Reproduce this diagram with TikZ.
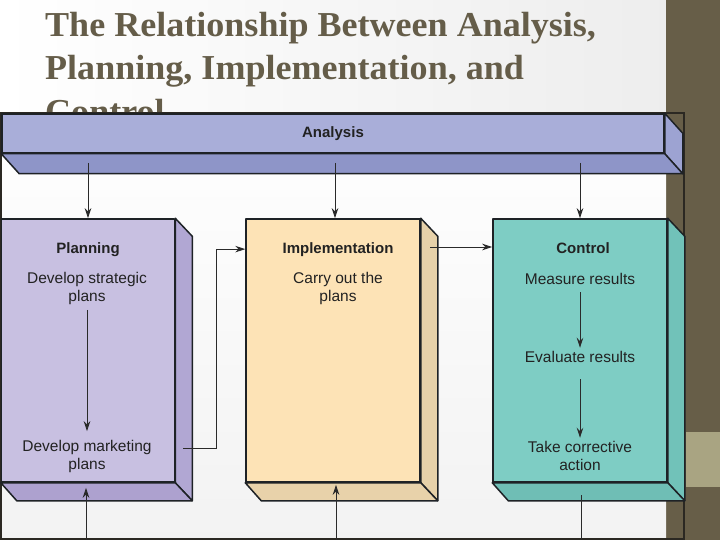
\documentclass[tikz,border=0pt]{standalone}
\usepackage{fontspec}
\setmainfont{Liberation Sans}
\newfontfamily\titlefont{Liberation Serif}
\usetikzlibrary{arrows.meta,calc,positioning}

\definecolor{titlec}{HTML}{655D49}
\definecolor{olive}{HTML}{675E48}
\definecolor{khaki}{HTML}{A9A482}
\definecolor{framec}{HTML}{2B2822}
\definecolor{edgec}{HTML}{1E2226}
\definecolor{linec}{HTML}{2A2A2A}
\definecolor{txtc}{HTML}{222222}
\definecolor{anafront}{HTML}{A9AED9}
\definecolor{anaside}{HTML}{9DA3D2}
\definecolor{anabot}{HTML}{8E95C8}
\definecolor{plfront}{HTML}{C8C0E1}
\definecolor{plside}{HTML}{B1A7D3}
\definecolor{plbot}{HTML}{ADA1CF}
\definecolor{imfront}{HTML}{FDE3B6}
\definecolor{imside}{HTML}{E6D1A9}
\definecolor{imbot}{HTML}{E8D2AA}
\definecolor{ctfront}{HTML}{7ECDC4}
\definecolor{ctside}{HTML}{71C2B9}
\definecolor{ctbot}{HTML}{6FBEB5}

\begin{document}
\begin{tikzpicture}[x=1pt, y=-1pt,
    face/.style={draw=edgec, line width=1.5pt, line join=round},
    arr/.style={-{Stealth[length=10pt,width=6.5pt]}, draw=linec, line width=0.9pt},
    plain/.style={draw=linec, line width=0.9pt},
    boxhead/.style={anchor=base, font=\fontsize{15}{18}\selectfont\bfseries, text=txtc},
    boxtext/.style={font=\fontsize{15.5}{18}\selectfont, text=txtc, align=center},
    titleline/.style={anchor=base west, inner sep=0pt, text=titlec,
      font=\titlefont\bfseries\fontsize{35}{40}\selectfont}]
  \useasboundingbox (0,0) rectangle (720,540);

  % slide background
  \shade[left color=white, right color=gray!15] (0,0) rectangle (720,540);
  \fill[olive] (666,0) rectangle (720,540);
  \fill[khaki] (686,432) rectangle (720,487);

  % title
  \node[titleline] (t1) at (45,36.7) {\scalebox{1.03}[1]{The Relationship Between Analysis,}};
  \node[titleline] (t2) at (45,80) {\scalebox{1.03}[1]{Planning, Implementation, and}};
  \node[titleline] (t3) at (45,123.5) {\scalebox{1.03}[1]{Control}};

  % picture area
  \shade[top color=white, bottom color=gray!10] (0,113) rectangle (666,540);
  \draw[framec, line width=2.5pt] (1,113) rectangle (684,539);

  % analysis bar
  \node[face, fill=anafront, minimum width=662pt, minimum height=39pt, font=\fontsize{15}{18}\selectfont\bfseries, text=txtc] (ana) at (333,133.5) {Analysis};
  \filldraw[face, fill=anaside] (ana.north east) -- ++(18,20) -- ($(ana.south east)+(18,20)$) -- (ana.south east) -- cycle;
  \filldraw[face, fill=anabot] (ana.south west) -- ++(18,20) -- ($(ana.south east)+(18,20)$) -- (ana.south east) -- cycle;

  % three boxes
  \node[face, fill=plfront, minimum width=173pt, minimum height=263pt] (plan) at (88,350.5) {};
  \node[face, fill=imfront, minimum width=174pt, minimum height=263pt] (impl) at (333,350.5) {};
  \node[face, fill=ctfront, minimum width=174pt, minimum height=263pt] (ctrl) at (580,350.5) {};
  \foreach \b/\cs/\cb in {plan/plside/plbot, impl/imside/imbot, ctrl/ctside/ctbot} {
    \filldraw[face, fill=\cs] (\b.north east) -- ++(17,18) -- ($(\b.south east)+(17,18)$) -- (\b.south east) -- cycle;
    \filldraw[face, fill=\cb] (\b.south west) -- ++(16,18) -- ($(\b.south east)+(17,18)$) -- (\b.south east) -- cycle;
  }

  % labels
  \node[boxhead] (plhead) at (88,253) {Planning};
  \node[boxtext] (pl1) at (87,288) {Develop strategic\\plans};
  \node[boxtext] (pl2) at (87,456) {Develop marketing\\plans};
  \node[boxhead] (imhead) at (338,253) {Implementation};
  \node[boxtext] (im1) at (338,288.5) {Carry out the\\plans};
  \node[boxhead] (cthead) at (583,253) {Control};
  \node[boxtext] (ct1) at (580,279) {Measure results};
  \node[boxtext] (ct2) at (580,357) {Evaluate results};
  \node[boxtext] (ct3) at (580,456) {Take corrective\\action};

  % arrows from analysis
  \foreach \n/\xx in {plan/88, impl/335, ctrl/580} {
    \coordinate (a\n) at (\xx,163);
    \draw[arr] (a\n) -- (a\n |- \n.north);
  }

  % arrows inside the boxes
  \draw[arr, shorten <=2pt, shorten >=5pt] (pl1) -- (pl2);
  \draw[arr, shorten <=4pt] (ct1) -- (ct2);
  \draw[arr, shorten <=13pt] (ct2) -- (ct3);

  % planning to implementation to control
  \coordinate (pout) at (183,448);
  \draw[arr] (pout) -- ++(33,0) |- (impl.west |- imhead);
  \coordinate (iout) at (430,247);
  \draw[arr] (iout) -- (iout -| ctrl.west);

  % lines at the bottom
  \coordinate (bplan) at (86,540);
  \coordinate (bimpl) at (336,540);
  \draw[arr] (bplan) -- ($(bplan |- plan.south)+(0,5)$);
  \draw[arr] (bimpl) -- ($(bimpl |- impl.south)+(0,2)$);
  \coordinate (cout) at (581,495);
  \coordinate (cend) at (581,540);
  \draw[plain] (cout) -- (cend);
\end{tikzpicture}
\end{document}
